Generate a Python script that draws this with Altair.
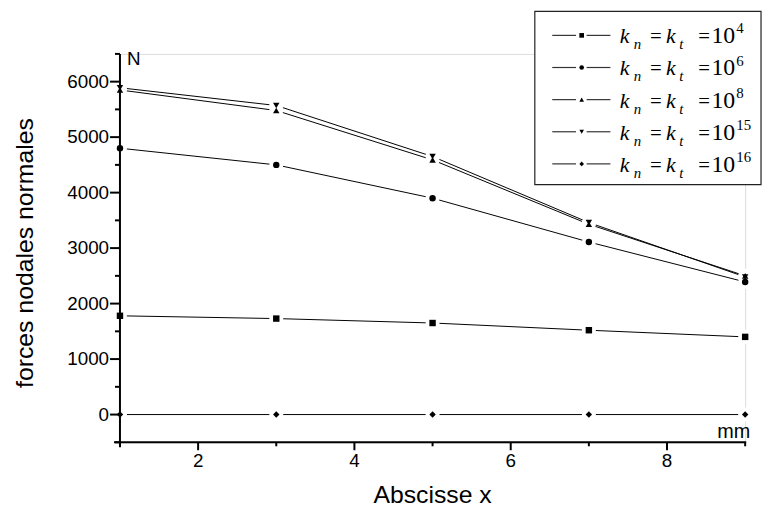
import altair as alt
import pandas as pd

# ---- data ----
x_vals = [1, 3, 5, 7, 9]
k4 = [1780, 1730, 1650, 1520, 1400]
k6 = [4800, 4500, 3900, 3110, 2390]
k8 = [5850, 5480, 4590, 3430, 2500]
k15 = [5890, 5570, 4650, 3460, 2480]
k16 = [0, 0, 0, 0, 0]

series_names = ["k4", "k6", "k8", "k15", "k16"]
exponents = ["4", "6", "8", "15", "16"]
shapes = ["square", "circle", "triangle-up", "triangle-down", "diamond"]
series_values = [k4, k6, k8, k15, k16]

y_major = [0, 1000, 2000, 3000, 4000, 5000, 6000]
y_minor = [-500, 500, 1500, 2500, 3500, 4500, 5500, 6500]
x_major = [2, 4, 6, 8]
x_minor = [1, 3, 5, 7, 9]

rows = []
for name, vals in zip(series_names, series_values):
    for xv, yv in zip(x_vals, vals):
        rows.append({"series": name, "x": xv, "value": yv})
df = pd.DataFrame(rows)

df_leg = pd.DataFrame({"series": series_names, "exp": exponents,
                       "k": ["k"] * 5, "n": ["n"] * 5, "eq": ["="] * 5,
                       "t": ["t"] * 5, "ten": ["10"] * 5})

FONT = "Liberation Sans"
SERIF = "Liberation Serif"

shape_scale = alt.Scale(domain=series_names, range=shapes)
x_scale = alt.Scale(domain=[1, 9], nice=False, zero=False)
y_scale = alt.Scale(domain=[-500, 6500], nice=False, zero=False)

x_enc = alt.X(
    "x:Q", scale=x_scale,
    axis=alt.Axis(
        values=x_major, title="Abscisse x", titleFont=FONT, titleFontSize=25,
        titleFontWeight="normal", titleColor="black", titleY=61,
        titleBaseline="alphabetic",
        labelFont=FONT, labelFontSize=19, labelColor="black", labelPadding=2,
        labelOverlap=False, labelFlush=False, grid=False,
        domain=False, ticks=True, tickSize=8, tickOpacity=0, translate=0,
    ),
)
y_enc = alt.Y(
    "value:Q", scale=y_scale,
    axis=alt.Axis(
        values=y_major, format="d", title="forces nodales normales", titleFont=FONT,
        titleFontSize=25, titleFontWeight="normal", titleColor="black",
        titleAngle=270, titleX=-88, titleY=201, titleBaseline="alphabetic",
        titleAlign="center",
        labelFont=FONT, labelFontSize=19, labelColor="black", labelPadding=1,
        labelOverlap=False, grid=False,
        domain=False, ticks=True, tickSize=10, tickOpacity=0, translate=0,
    ),
)

base = alt.Chart(df).encode(x=x_enc, y=y_enc)
lines = base.mark_line(color="black", strokeWidth=1).encode(detail="series:N")
halo = base.mark_point(filled=True, color="white", opacity=1, shape="circle", size=200)
pts = base.mark_point(filled=True, color="black", opacity=1, size=42).encode(
    shape=alt.Shape("series:N", scale=shape_scale, legend=None)
)

# axis lines and ticks drawn as black rules
one = pd.DataFrame({"t": ["N"]})
axis_x = alt.Chart(one).mark_rule(color="black", strokeWidth=2).encode(
    x=alt.value(-6), x2=alt.value(632), y=alt.value(392))
axis_y = alt.Chart(one).mark_rule(color="black", strokeWidth=2).encode(
    x=alt.value(0), y=alt.value(0), y2=alt.value(397))
yt_major = alt.Chart(pd.DataFrame({"value": y_major})).mark_rule(
    color="black", strokeWidth=2).encode(y=y_enc, x=alt.value(-10), x2=alt.value(0))
yt_minor = alt.Chart(pd.DataFrame({"value": y_minor})).mark_rule(
    color="black", strokeWidth=2).encode(y=y_enc, x=alt.value(-5), x2=alt.value(0))
xt_major = alt.Chart(pd.DataFrame({"x": x_major})).mark_rule(
    color="black", strokeWidth=2).encode(x=x_enc, y=alt.value(392), y2=alt.value(400))
xt_minor = alt.Chart(pd.DataFrame({"x": x_minor})).mark_rule(
    color="black", strokeWidth=2).encode(x=x_enc, y=alt.value(392), y2=alt.value(396))

n_lab = alt.Chart(one).mark_text(
    align="left", baseline="alphabetic", font=FONT, fontSize=19, color="black"
).encode(x=alt.value(7), y=alt.value(11), text="t:N")
mm_lab = alt.Chart(pd.DataFrame({"t": ["mm"]})).mark_text(
    align="right", baseline="alphabetic", font=FONT, fontSize=20, color="black"
).encode(x=alt.value(636), y=alt.value(388), text="t:N")

main = alt.layer(lines, halo, pts, axis_x, axis_y, yt_major, yt_minor,
                 xt_major, xt_minor, n_lab, mm_lab)

# ---- legend ----
row_y = alt.Y("series:N", scale=alt.Scale(type="point", domain=series_names,
                                          range=[-18.7, 111], padding=0), axis=None)
box = alt.Chart(pd.DataFrame({"a": [0]})).mark_rect(
    fill="white", stroke="#222", strokeWidth=1.2
).encode(x=alt.value(418.7), x2=alt.value(647), y=alt.value(-43), y2=alt.value(132))
leg = alt.Chart(df_leg)
segL = leg.mark_rule(color="#333", strokeWidth=1.2).encode(
    y=row_y, x=alt.value(436.3), x2=alt.value(460.3))
segR = leg.mark_rule(color="#333", strokeWidth=1.2).encode(
    y=row_y, x=alt.value(471), x2=alt.value(495))
legpts = leg.mark_point(filled=True, color="black", opacity=1, size=22).encode(
    y=row_y, x=alt.value(466),
    shape=alt.Shape("series:N", scale=shape_scale, legend=None))


def txt(field, xpos, dy, size, italic):
    kw = dict(align="left", baseline="alphabetic", font=SERIF, fontSize=size,
              color="black", dy=dy)
    if italic:
        kw["fontStyle"] = "italic"
    return leg.mark_text(**kw).encode(y=row_y, x=alt.value(xpos), text=f"{field}:N")


legend = alt.layer(
    box, segL, segR, legpts,
    txt("k", 504.3, 8, 22, True),
    txt("n", 518.5, 14, 15, True),
    txt("eq", 535, 8, 21, False),
    txt("k", 551, 8, 22, True),
    txt("t", 564.5, 14, 15, True),
    txt("eq", 583.7, 8, 21, False),
    txt("ten", 597, 8, 24, False),
    txt("exp", 622, -2, 15, False),
)

chart = alt.layer(main, legend).resolve_scale(y="independent", x="independent").properties(
    width=631, height=392,
    autosize=alt.AutoSizeParams(type="none"),
    padding={"left": 113, "top": 44, "right": 18, "bottom": 67},
).configure_view(stroke=None).configure(background="white")

chart.save("out.html", embed_options={"renderer": "svg", "actions": False})
